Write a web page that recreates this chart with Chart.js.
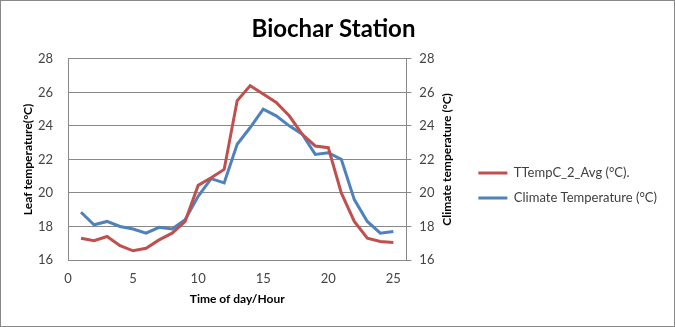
<!DOCTYPE html>
<html>
<head>
<meta charset="utf-8">
<title>Biochar Station</title>
<script src="https://cdn.jsdelivr.net/npm/chart.js@4/dist/chart.umd.min.js"></script>
<style>
    body { margin: 0; background: #fff; }
    canvas { display: block; }
</style>
</head>
<body>
<canvas id="lineChart" width="675" height="327"></canvas>
<script>
// Hora del día (1-25)
const hours = [1, 2, 3, 4, 5, 6, 7, 8, 9, 10, 11, 12, 13, 14, 15, 16, 17, 18, 19, 20, 21, 22, 23, 24, 25];

// Temperatura de hoja TTempC_2_Avg (°C)
const leafTemp = [17.3, 17.15, 17.4, 16.85, 16.55, 16.7, 17.2, 17.6, 18.3, 20.45, 20.9, 21.4,
    25.5, 26.4, 25.9, 25.4, 24.6, 23.5, 22.8, 22.7, 20.0, 18.3, 17.3, 17.1, 17.05];

// Temperatura del clima (°C)
const climateTemp = [18.85, 18.1, 18.3, 18.0, 17.85, 17.6, 17.95, 17.85, 18.4, 19.8, 20.85, 20.6,
    22.9, 23.9, 25.0, 24.6, 24.0, 23.5, 22.3, 22.4, 22.0, 19.6, 18.3, 17.6, 17.7];

// Rango de los ejes
const xTicks = { min: 0, max: 26, step: 5 };
const yTicks = { min: 16, max: 28, step: 2 };

const toPoints = (values) => values.map((v, i) => ({ x: hours[i], y: v }));

Chart.defaults.font.family = 'Lato';

// Titulo del eje derecho, escrito de abajo hacia arriba, y marco exterior
const rightTitle = {
    id: 'rightTitle',
    afterDraw(chart) {
        const { ctx, chartArea } = chart;
        ctx.save();
        ctx.translate(chartArea.right + 41, (chartArea.top + chartArea.bottom) / 2);
        ctx.rotate(-Math.PI / 2);
        ctx.font = 'bold 12px Lato';
        ctx.fillStyle = '#000';
        ctx.textAlign = 'center';
        ctx.textBaseline = 'middle';
        ctx.fillText('Climate temperature (°C)', 0, 0);
        ctx.restore();

        ctx.save();
        ctx.strokeStyle = '#888';
        ctx.lineWidth = 1;
        ctx.strokeRect(0.5, 0.5, chart.width - 1, chart.height - 1);
        ctx.restore();
    }
};

const ctx = document.getElementById('lineChart').getContext('2d');

const lineChart = new Chart(ctx, {
    type: 'line',
    data: {
        datasets: [{
            label: 'TTempC_2_Avg (°C).',
            data: toPoints(leafTemp),
            borderColor: '#C0504D',
            backgroundColor: '#C0504D',
            borderWidth: 3,
            pointRadius: 0,
            yAxisID: 'y'
        }, {
            label: 'Climate Temperature (°C)',
            data: toPoints(climateTemp),
            borderColor: '#4F81BD',
            backgroundColor: '#4F81BD',
            borderWidth: 3,
            pointRadius: 0,
            yAxisID: 'y1'
        }]
    },
    options: {
        responsive: false,
        animation: false,
        layout: { padding: { right: 8 } },
        plugins: {
            title: {
                display: true,
                text: 'Biochar Station',
                color: '#000',
                font: { size: 24, weight: 'bold' },
                padding: { top: 15, bottom: 15 }
            },
            legend: {
                position: 'right',
                maxWidth: 230,
                // titulo vacio: solo baja un poco los elementos de la leyenda
                title: { display: true, text: '', font: { size: 10 }, padding: { top: 32, bottom: 0 } },
                labels: {
                    boxWidth: 29,
                    boxHeight: 3,
                    padding: 12,
                    color: '#404040',
                    font: { size: 13 },
                    // muestra de linea fina, sin borde
                    generateLabels: (chart) => Chart.defaults.plugins.legend.labels.generateLabels(chart)
                        .map((item) => ({ ...item, lineWidth: 0 }))
                }
            },
            tooltip: { enabled: false }
        },
        scales: {
            x: {
                type: 'linear',
                min: xTicks.min,
                max: xTicks.max,
                afterFit: (scale) => { scale.height = 67; },
                ticks: {
                    stepSize: xTicks.step,
                    includeBounds: false,
                    padding: 11,
                    color: '#444',
                    font: { size: 13 }
                },
                grid: { display: false, drawTicks: false },
                border: { display: true, color: '#888' },
                title: {
                    display: true,
                    text: 'Time of day/Hour',
                    color: '#000',
                    font: { size: 12, weight: 'bold' },
                    padding: { top: 0, bottom: 21 }
                }
            },
            y: {
                position: 'left',
                min: yTicks.min,
                max: yTicks.max,
                afterFit: (scale) => { scale.width = 68; },
                ticks: {
                    stepSize: yTicks.step,
                    padding: 15,
                    color: '#444',
                    font: { size: 13 }
                },
                grid: { color: '#888', drawTicks: false },
                border: { display: true, color: '#888' },
                title: {
                    display: true,
                    text: 'Leaf temperature(°C)',
                    color: '#000',
                    font: { size: 12, weight: 'bold' },
                    padding: { top: 21, bottom: 0 }
                }
            },
            y1: {
                position: 'right',
                min: yTicks.min,
                max: yTicks.max,
                afterFit: (scale) => { scale.width = 60; },
                ticks: {
                    stepSize: yTicks.step,
                    padding: 8,
                    color: '#444',
                    font: { size: 13 }
                },
                grid: { drawOnChartArea: false, tickLength: 5, color: '#888' },
                border: { display: true, color: '#888' }
            }
        }
    },
    plugins: [rightTitle]
});
</script>
</body>
</html>
